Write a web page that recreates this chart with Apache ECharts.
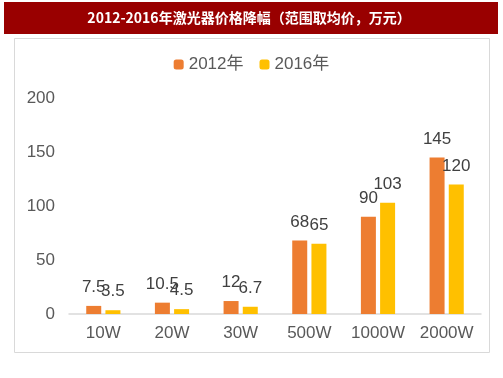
<!DOCTYPE html>
<html><head><meta charset="utf-8">
<script src="https://cdn.jsdelivr.net/npm/echarts@6/dist/echarts.min.js"></script>
<style>html,body{margin:0;padding:0;background:#fff}#c{width:503px;height:378px}</style>
</head><body><div id="c"></div>
<script>
const categories = ['10W','20W','30W','500W','1000W','2000W'];
const values2012 = [7.5, 10.5, 12, 68, 90, 145];
const values2016 = [3.5, 4.5, 6.7, 65, 103, 120];
const yTicks = [0, 50, 100, 150, 200];
const titleText = '2012-2016年激光器价格降幅（范围取均价，万元）';

const chart = echarts.init(document.getElementById('c'));
const labelStyle = {show:true, position:'top', distance:10, color:'#404040', fontSize:17, fontFamily:'Liberation Sans, Arial, sans-serif'};
chart.setOption({
  animation:false,
  graphic:[
    {type:'rect', shape:{x:4,y:2,width:494,height:32}, style:{fill:'#990000'}, z:-1},
    {type:'rect', shape:{x:14.5,y:38.5,width:475,height:314}, style:{fill:'none', stroke:'#d9d9d9', lineWidth:1}, z:-1},
    {type:'text', x:249, y:18, style:{text:titleText, fill:'#fff', font:'bold 14px "Noto Sans CJK SC", serif', align:'center', verticalAlign:'middle'}}
  ],
  legend:{
    top:51, left:'center', itemWidth:10, itemHeight:10, itemGap:16,
    textStyle:{color:'#595959', fontSize:17, fontFamily:'Liberation Sans, "Noto Sans CJK SC", sans-serif'},
    data:['2012年','2016年']
  },
  grid:{left:69, right:22, top:98, bottom:64},
  xAxis:{
    type:'category', data:categories,
    axisLine:{lineStyle:{color:'#d9d9d9', width:1.5}},
    axisTick:{show:false},
    axisLabel:{interval:0, hideOverlap:false, color:'#595959', fontSize:17, margin:11, fontFamily:'Liberation Sans, Arial, sans-serif'}
  },
  yAxis:{
    type:'value', min:yTicks[0], max:yTicks[yTicks.length-1], interval:50,
    axisLine:{show:false}, axisTick:{show:false}, splitLine:{show:false},
    axisLabel:{color:'#595959', fontSize:17, margin:14, fontFamily:'Liberation Sans, Arial, sans-serif'}
  },
  series:[
    {name:'2012年', type:'bar', data:values2012, barWidth:15, barGap:'28%', itemStyle:{color:'#ED7D31'}, label:labelStyle},
    {name:'2016年', type:'bar', data:values2016, barWidth:15, itemStyle:{color:'#FFC000'}, label:labelStyle}
  ]
});
</script></body></html>
